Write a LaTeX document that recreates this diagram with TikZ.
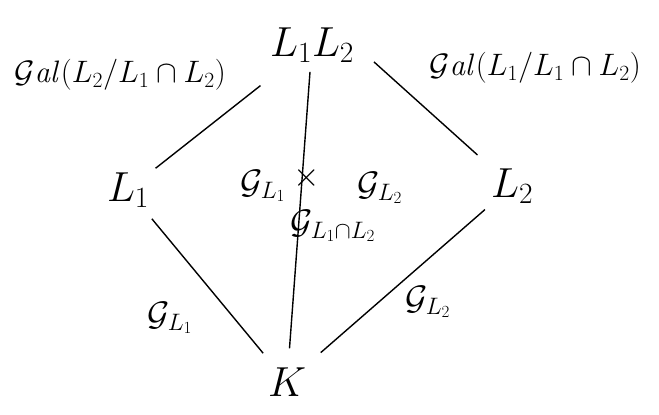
\RequirePackage{fix-cm}
\documentclass[tikz,border=0pt]{standalone}
\usetikzlibrary{calc}
\tikzset{
  big/.style={inner sep=1pt,font=\fontsize{42}{46}\selectfont},
  lab/.style={inner sep=1pt,font=\fontsize{31}{35}\selectfont},
  grp/.style={inner sep=1pt,font=\fontsize{34}{38}\selectfont},
  edge/.style={line width=1.4pt}
}
\begin{document}
\begin{tikzpicture}[x=1pt,y=-1pt]
\useasboundingbox (0,0) rectangle (659,415);
% field nodes
\node[big] (L12) at (312,45) {$L_1L_2$};
\node[big] (L1) at (128,190) {$L_1$};
\node[big] (L2) at (512,186) {$L_2$};
\node[big] (K) at (287,382) {$K$};
% labels
\node[lab] (galL) at (120,75) {$\mathcal{G}\mathit{al}(L_2/L_1\cap L_2)$};
\node[lab] (galR) at (535,68) {$\mathcal{G}\mathit{al}(L_1/L_1\cap L_2)$};
\node[grp] (gA) at (263,186) {$\mathcal{G}_{L_1}$};
\node[grp] (times) at (307,178) {$\times$};
\node[grp] (gB) at (380,188) {$\mathcal{G}_{L_2}$};
\node[grp] (gC) at (333,226) {$\mathcal{G}_{L_1\cap L_2}$};
\node[grp] (gD) at (170,318) {$\mathcal{G}_{L_1}$};
\node[grp] (gE) at (428,302) {$\mathcal{G}_{L_2}$};
% connectors
\draw[edge] ($(L12)!0.28!(L1)$) -- ($(L12)!0.85!(L1)$);
\draw[edge] ($(L12.east)!0.12!(L2)$) -- ($(L12.east)!0.78!(L2)$);
\draw[edge] ($(L12)!0.08!(K)$) -- ($(L12)!0.9!(K)$);
\draw[edge] ($(L1)!0.15!(K)$) -- ($(L1)!0.85!(K)$);
\draw[edge] ($(L2)!0.12!(K)$) -- ($(L2)!0.85!(K)$);
\end{tikzpicture}
\end{document}
